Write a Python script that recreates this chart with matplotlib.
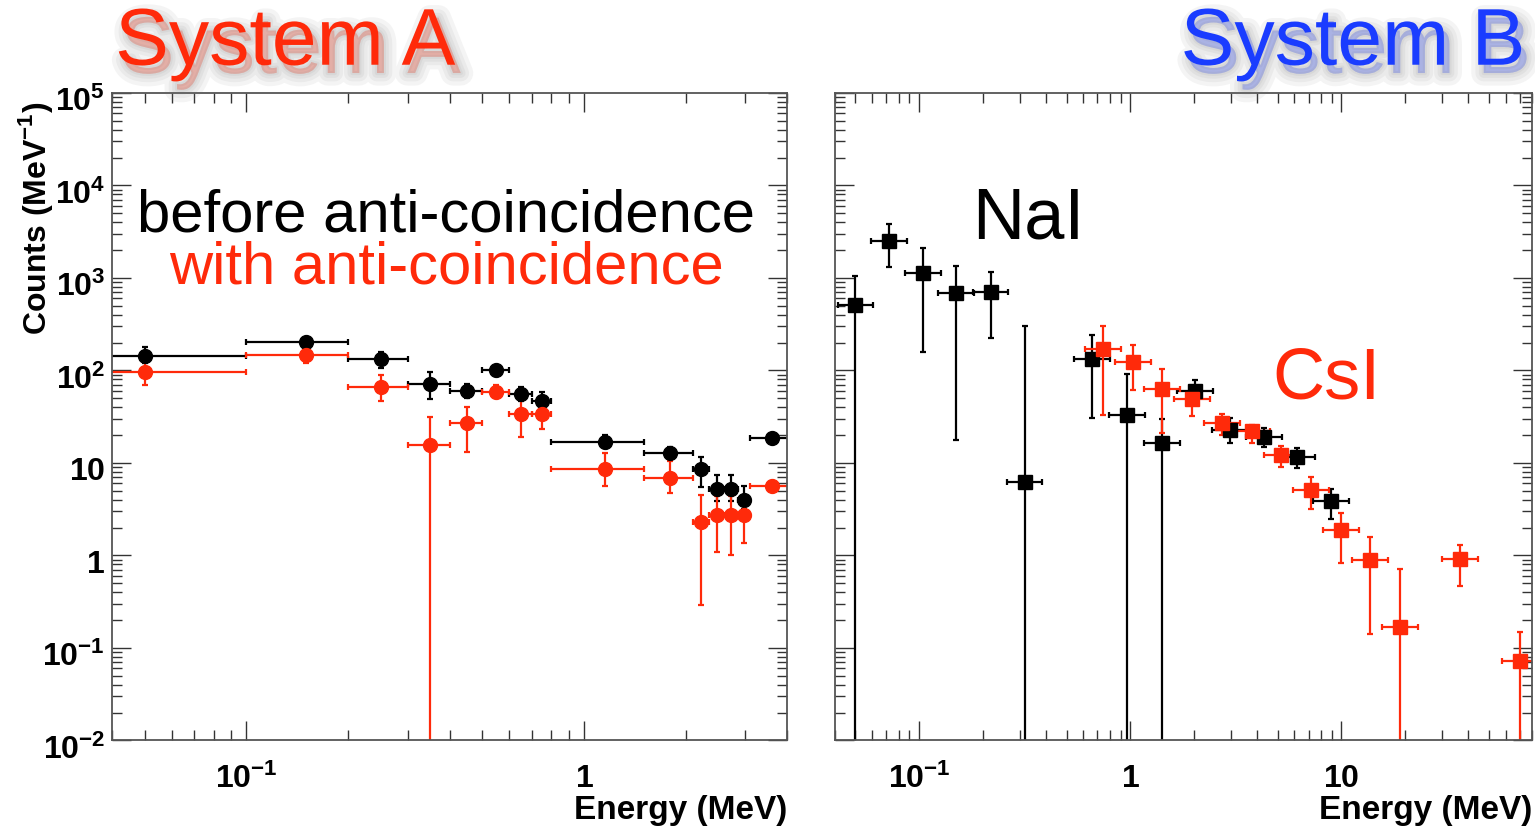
import matplotlib
matplotlib.use('Agg')
import matplotlib.pyplot as plt
import matplotlib.patheffects as pe
from matplotlib.transforms import ScaledTranslation
from matplotlib.ticker import FixedLocator, FixedFormatter, LogLocator, NullFormatter
import numpy as np

plt.rcParams['font.family'] = ['Liberation Sans', 'DejaVu Sans']
plt.rcParams['mathtext.fontset'] = 'custom'
plt.rcParams['mathtext.rm'] = 'Liberation Sans'
plt.rcParams['mathtext.bf'] = 'Liberation Sans:bold'

RED = '#ff2a0a'
BLUE = '#1a3cff'

# System A : bins in MeV, counts per MeV
a_lo = [0.0, 0.1, 0.2, 0.3, 0.4, 0.5, 0.6, 0.7, 0.8, 1.5, 2.1, 2.35, 2.6, 2.85, 3.1]
a_hi = [0.1, 0.2, 0.3, 0.4, 0.5, 0.6, 0.7, 0.8, 1.5, 2.1, 2.35, 2.6, 2.85, 3.1, 4.1]
a_before = [143, 204, 133, 71, 60, 100, 56, 47, 16.9, 12.9, 8.6, 5.2, 5.2, 4.0, 18.5]
a_before_lo = [120, 188, 106, 49, 50, 88, 47, 40, 14.5, 11, 5.5, 3.9, 3.9, 3.2, 16.5]
a_before_hi = [180, 222, 160, 96, 72, 112, 66, 58, 20, 15, 11.6, 7.4, 7.4, 5.6, 20.5]
a_with = [97, 147, 67, 15.6, 27, 59, 34, 34, 8.6, 6.8, 2.3, 2.7, 2.7, 2.7, 5.6]
a_with_lo = [70, 120, 47, 1e-3, 13, 50, 19, 23, 5.6, 4.7, 0.29, 1.1, 1.0, 1.35, 5.0]
a_with_hi = [123, 175, 90, 31.5, 40, 70, 60, 46, 12.8, 10.6, 4.5, 4.4, 4.4, 4.0, 6.3]

# System B : NaI (black) and CsI (red)
nai_e = [0.05, 0.072, 0.104, 0.15, 0.218, 0.316, 0.66, 0.97, 1.42, 2.03, 2.96, 4.3, 6.2, 8.9]
nai_c = [511, 2535, 1140, 688, 710, 6.2, 133, 33, 16.4, 60, 22.6, 19.2, 11.6, 3.9]
nai_lo = [1e-3, 1316, 160, 17.7, 224, 1e-3, 30.6, 1e-3, 1e-3, 50, 16.4, 15, 8.7, 2.5]
nai_hi = [1050, 3800, 2130, 1350, 1170, 300, 241, 91, 30, 79, 30.6, 24, 14.6, 5.2]
csi_e = [0.74, 1.03, 1.42, 1.96, 2.72, 3.76, 5.21, 7.22, 10.0, 13.7, 19.0, 36.4, 69.9]
csi_c = [171, 124, 63, 49, 27, 22, 12.1, 5.1, 1.9, 0.89, 0.168, 0.91, 0.072]
csi_lo = [33, 61, 21, 32, 20, 16.4, 9, 3.2, 0.82, 0.14, 1e-3, 0.47, 1e-3]
csi_hi = [304, 190, 103, 61, 34, 26, 15.3, 7.0, 2.9, 1.6, 0.72, 1.3, 0.15]

y_ticks = [1e-2, 1e-1, 1, 10, 1e2, 1e3, 1e4, 1e5]
y_labels = [r'$\mathbf{10^{-2}}$', r'$\mathbf{10^{-1}}$', r'$\mathbf{1}$', r'$\mathbf{10}$',
            r'$\mathbf{10^{2}}$', r'$\mathbf{10^{3}}$', r'$\mathbf{10^{4}}$', r'$\mathbf{10^{5}}$']
x_ticks = [0.1, 1, 10]
x_labels = [r'$\mathbf{10^{-1}}$', r'$\mathbf{1}$', r'$\mathbf{10}$']


def style_axes(ax, xmax):
    ax.set_xscale('log')
    ax.set_yscale('log')
    ax.set_xlim(0.04, xmax)
    ax.set_ylim(1e-2, 1e5)
    ax.xaxis.set_major_locator(FixedLocator(x_ticks))
    ax.xaxis.set_major_formatter(FixedFormatter(x_labels))
    ax.xaxis.set_minor_locator(LogLocator(base=10, subs=np.arange(2, 10)))
    ax.xaxis.set_minor_formatter(NullFormatter())
    ax.yaxis.set_major_locator(FixedLocator(y_ticks))
    ax.yaxis.set_major_formatter(FixedFormatter(y_labels))
    ax.yaxis.set_minor_locator(LogLocator(base=10, subs=np.arange(2, 10)))
    ax.yaxis.set_minor_formatter(NullFormatter())
    ax.tick_params(which='both', direction='in', top=True, right=True, color='#333', width=1)
    ax.tick_params(which='major', length=14)
    ax.tick_params(which='minor', length=7)
    ax.tick_params(axis='x', which='major', pad=17, labelsize=23)
    ax.tick_params(axis='y', which='major', pad=5, labelsize=23)
    for s in ax.spines.values():
        s.set_color('#555')
        s.set_linewidth(1.3)


fig = plt.figure(figsize=(15.35, 8.3), dpi=100)
axA = fig.add_axes([0.073, 0.108, 0.440, 0.780])
axB = fig.add_axes([0.544, 0.108, 0.454, 0.780])

# ---- System A
lo = np.array(a_lo)
hi = np.array(a_hi)
ctr = (lo + hi) / 2
xerr = [ctr - lo, hi - ctr]
for vals, vlo, vhi, col in [(a_before, a_before_lo, a_before_hi, 'black'),
                            (a_with, a_with_lo, a_with_hi, RED)]:
    v = np.array(vals)
    axA.errorbar(ctr, v, xerr=xerr, yerr=[v - np.array(vlo), np.array(vhi) - v],
                 fmt='o', color=col, ms=10, elinewidth=1.6, capsize=2, capthick=1.6)
style_axes(axA, 4.0)
# labels sit a little below their ticks, as in the original
for lab in axA.get_yticklabels():
    lab.set_transform(lab.get_transform() + ScaledTranslation(0, -0.06, fig.dpi_scale_trans))
axA.text(1.0, -0.108, 'Energy (MeV)', transform=axA.transAxes, ha='right', va='center',
         fontsize=24, fontweight='bold')
fig.text(0.023, 0.737, 'Counts (MeV$^{\\mathbf{-1}}$)', rotation=90, ha='center', va='center',
         fontsize=23, fontweight='bold')
fig.text(0.2906, 0.7205, 'before anti-coincidence', ha='center', va='baseline',
         fontsize=43, color='black')
fig.text(0.2906, 0.658, 'with anti-coincidence', ha='center', va='baseline',
         fontsize=43, color=RED)

# ---- System B
k = 10 ** 0.085
for e, vals, vlo, vhi, col in [(nai_e, nai_c, nai_lo, nai_hi, 'black'),
                               (csi_e, csi_c, csi_lo, csi_hi, RED)]:
    e = np.array(e)
    v = np.array(vals)
    axB.errorbar(e, v, xerr=[e - e / k, e * k - e], yerr=[v - np.array(vlo), np.array(vhi) - v],
                 fmt='s', color=col, ms=9.5, elinewidth=1.6, capsize=2, capthick=1.6)
style_axes(axB, 80)
axB.tick_params(axis='y', which='both', labelleft=False)
axB.text(1.0, -0.108, 'Energy (MeV)', transform=axB.transAxes, ha='right', va='center',
         fontsize=24, fontweight='bold')
fig.text(0.633, 0.713, 'NaI', ha='left', va='baseline', fontsize=52, color='black')
fig.text(0.829, 0.520, 'CsI', ha='left', va='baseline', fontsize=52, color=RED)

# ---- titles with soft shadow
shadow = [pe.Stroke(linewidth=w, foreground='#777', alpha=0.08, offset=(4, -6)) for w in (18, 12, 7, 3)]
shadow.append(pe.Normal())
fig.text(0.075, 0.922, 'System A', ha='left', va='baseline', fontsize=58, color=RED,
         path_effects=shadow)
fig.text(0.9935, 0.922, 'System B', ha='right', va='baseline', fontsize=58, color=BLUE,
         path_effects=shadow)

fig.savefig('out.png', dpi=100)
